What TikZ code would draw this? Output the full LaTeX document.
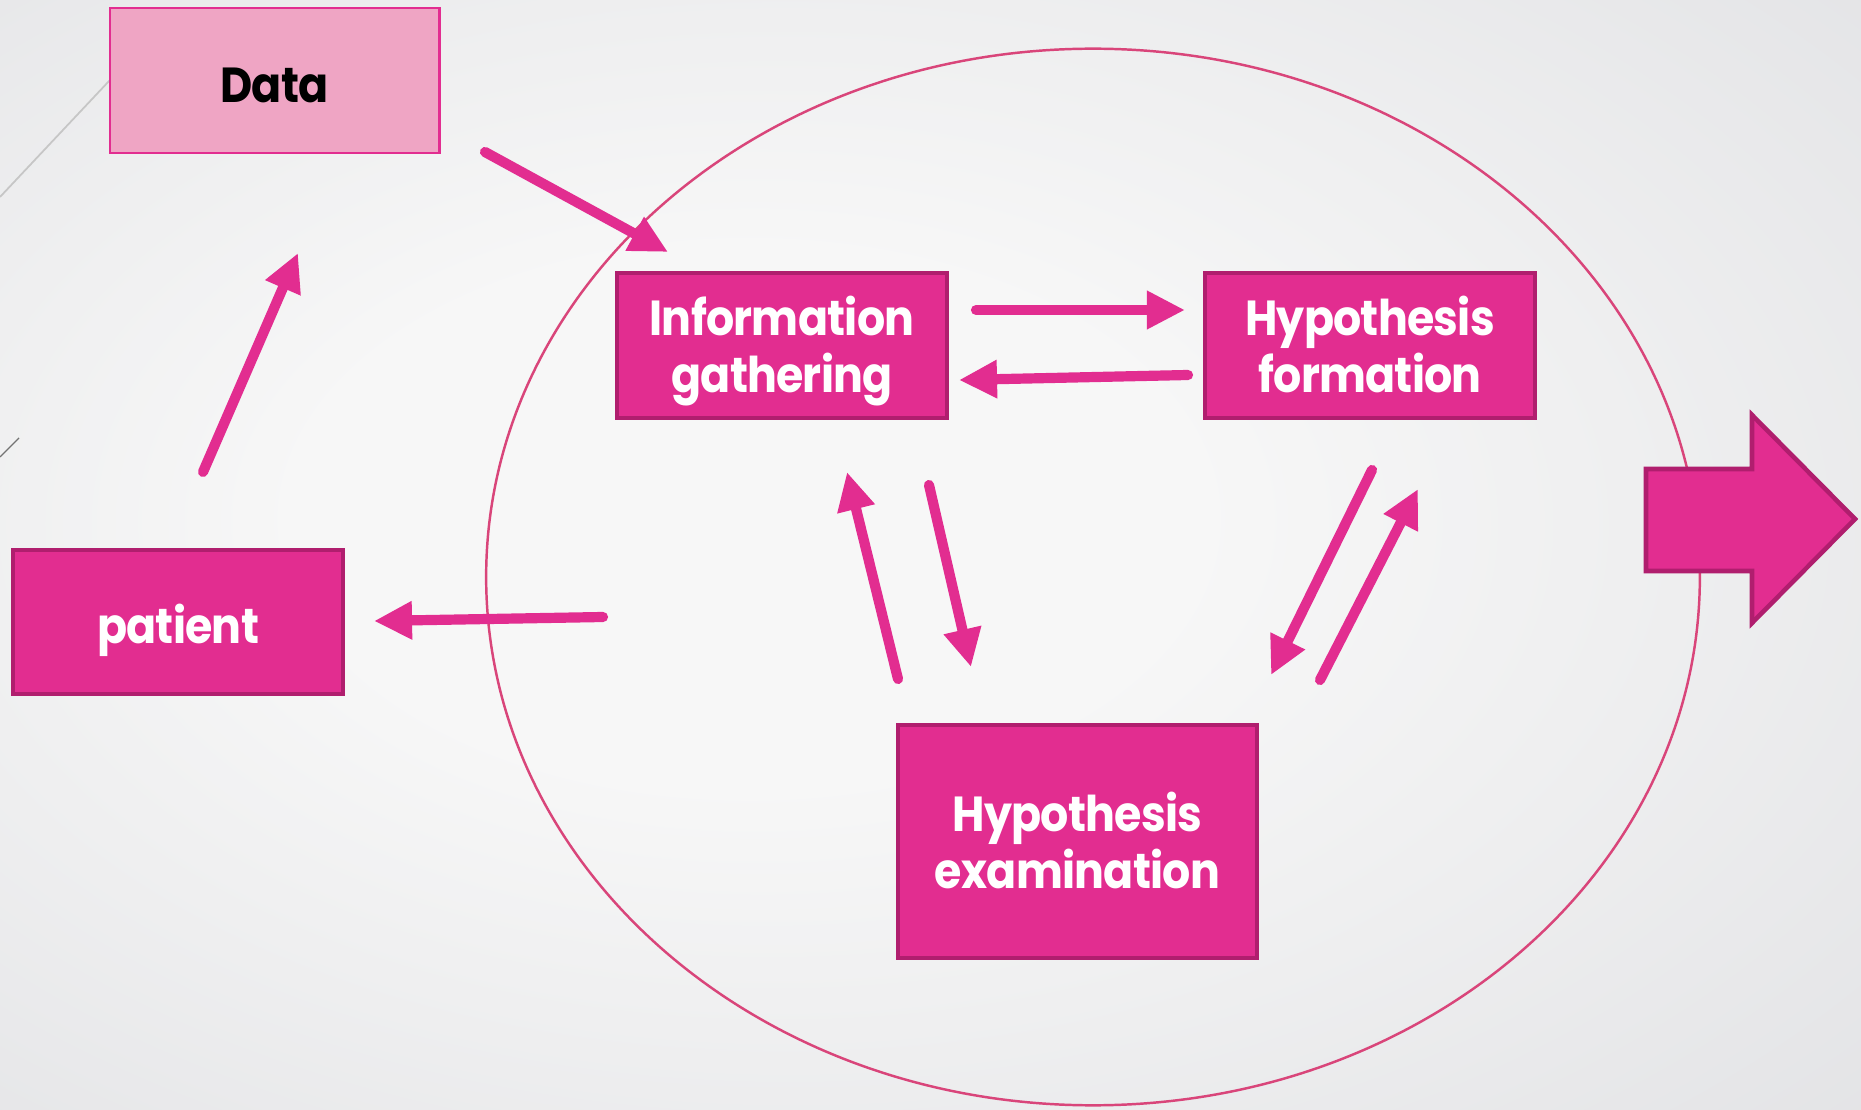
\documentclass[tikz,border=0pt]{standalone}
\usepackage{fontspec}
\newfontfamily\boxfont[FakeStretch=0.9,LetterSpace=-1.5]{Poppins}
\usetikzlibrary{arrows.meta,shapes.geometric}
\definecolor{magbox}{HTML}{E22D90}
\definecolor{magedge}{HTML}{B01E6E}
\definecolor{datafill}{HTML}{EFA5C4}
\definecolor{loopline}{HTML}{D9457A}
\definecolor{bgdark}{HTML}{CDCED3}
\definecolor{bglight}{HTML}{F7F7F7}
\pgfdeclareradialshading{slidebg}{\pgfpoint{-6bp}{2bp}}{color(0bp)=(bglight); color(12bp)=(bglight); color(68bp)=(bgdark)}
\newcommand\liftline{\rule{0pt}{14.5pt}}

\begin{document}
\begin{tikzpicture}[x=0.01cm,y=-0.01cm,
  stage/.style={draw=magedge, line width=1.2pt, fill=magbox, text=white,
    font=\boxfont\bfseries\fontsize{14}{16.2}\selectfont, align=center,
    inner sep=0pt, minimum width=3.3cm, minimum height=1.45cm,
    execute at begin node={\rule{0pt}{16.3pt}},
    execute at end node={\rule[-4pt]{0pt}{4pt}}},
  flow/.style={draw=magbox, line width=2.9pt, line cap=round,
    -{Triangle[length=0.38cm,width=0.36cm]}}]
\useasboundingbox (0,0) rectangle (1861,1110);
\shade[shading=slidebg] (0,0) rectangle (1861,1110);
\draw[gray!45, line width=0.5pt] (0,197) -- (110,80);
\draw[gray!90!black, line width=0.4pt] (0,457) -- (19,438);

\node[ellipse, draw=loopline, line width=0.7pt, inner sep=0pt,
  minimum width=12.13cm, minimum height=10.56cm] (loop) at (1093,577) {};

\node[stage, fill=datafill, draw=magbox, line width=0.8pt, text=black,
  minimum width=3.29cm] (data) at (274.5,80.5) {Data};
\node[stage] (info) at (782,345.5) {\liftline Information\\gathering};
\node[stage] (hypf) at (1370,345.5) {\liftline Hypothesis\\formation};
\node[stage, minimum width=3.59cm, minimum height=2.33cm] (hype) at (1077.5,841.5) {\liftline Hypothesis\\examination};
\node[stage, minimum height=1.44cm] (patient) at (178,622) {patient};

\draw[fill=magbox, draw=magedge, line width=1.3pt, line join=miter]
  (1646,469) -- (1752,469) -- (1752,415) -- (1855,519) -- (1752,623)
  -- (1752,571) -- (1646,571) -- cycle;

\coordinate (d1) at (485,152);  \coordinate (i1) at (668,252);
\coordinate (p1) at (203,472);  \coordinate (d2) at (298,253);
\coordinate (i2) at (976,310);  \coordinate (f1) at (1185,310);
\coordinate (f2) at (1188,375); \coordinate (i3) at (959,380);
\coordinate (e1) at (898,679);  \coordinate (i4) at (847,472);
\coordinate (i5) at (929,485);  \coordinate (e2) at (971,667);
\coordinate (f3) at (1372,470); \coordinate (e3) at (1271,675);
\coordinate (e4) at (1320,680); \coordinate (f4) at (1418,489);
\coordinate (l1) at (603,617);  \coordinate (p2) at (374,621);

\draw[flow] (d1) -- (i1);
\draw[flow] (p1) -- (d2);
\draw[flow] (i2) -- (f1);
\draw[flow] (f2) -- (i3);
\draw[flow] (e1) -- (i4);
\draw[flow] (i5) -- (e2);
\draw[flow] (f3) -- (e3);
\draw[flow] (e4) -- (f4);
\draw[flow] (l1) -- (p2);
\end{tikzpicture}
\end{document}
